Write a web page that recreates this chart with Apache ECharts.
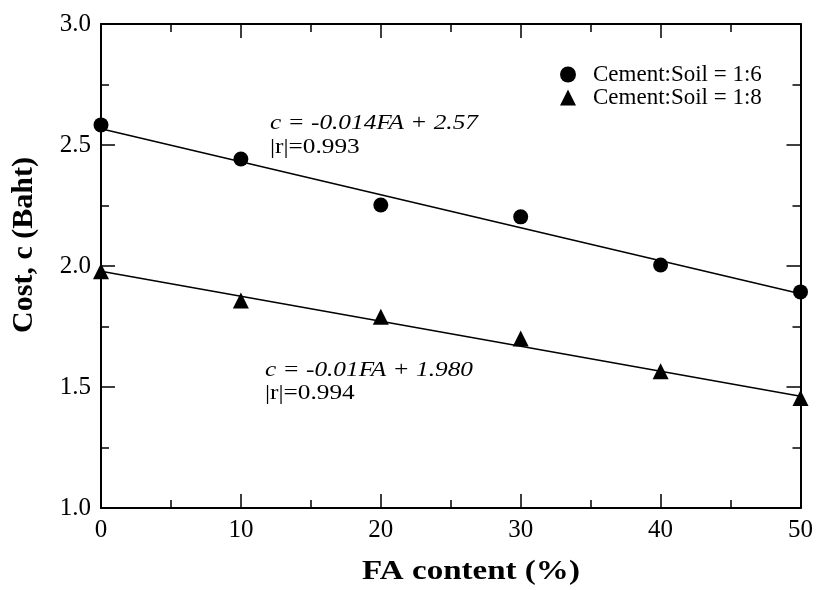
<!DOCTYPE html>
<html><head><meta charset="utf-8">
<script src="https://cdn.jsdelivr.net/npm/echarts@6/dist/echarts.min.js"></script>
<style>html,body{margin:0;padding:0;background:#fff}#c{width:816px;height:590px}</style>
</head><body><div id="c"></div>
<script>
const faContent = [0, 10, 20, 30, 40, 50];
const cost16 = [2.583, 2.442, 2.252, 2.203, 2.004, 1.893];
const cost18 = [1.978, 1.857, 1.790, 1.700, 1.565, 1.455];
const fitX = [0, 50];
const fit16 = [2.567, 1.885];
const fit18 = [1.978, 1.462];
const xTicks = [0, 10, 20, 30, 40, 50];
const yTicks = [1.0, 1.5, 2.0, 2.5, 3.0];
const eq16 = ['c = -0.014FA + 2.57', '|r|=0.993'];
const eq18 = ['c = -0.01FA + 1.980', '|r|=0.994'];
const names = ['Cement:Soil = 1:6', 'Cement:Soil = 1:8'];
const xTitle = 'FA content (%)';
const yTitle = 'Cost, c (Baht)';

const FONT = 'Liberation Serif';
const chart = echarts.init(document.getElementById('c'));
const pair = (xs, ys) => xs.map((x, i) => [x, ys[i]]);
const tickCommon = {show: true, inside: true, length: 14, lineStyle: {color: '#000', width: 1.5}};
const minorCommon = {show: true, splitNumber: 2, length: 8, lineStyle: {color: '#000', width: 1.5}};
const axisLine = {show: true, onZero: false, lineStyle: {color: '#000', width: 2}};

chart.setOption({
  animation: false,
  grid: {left: 101, right: 15, top: 24, bottom: 82},
  xAxis: [
    {type: 'value', min: 0, max: 50, interval: 10, position: 'bottom',
     axisLine, axisTick: tickCommon, minorTick: minorCommon, splitLine: {show: false},
     axisLabel: {fontFamily: FONT, fontSize: 25, color: '#000', margin: 10,
       formatter: v => xTicks.includes(v) ? String(v) : ''}},
    {type: 'value', min: 0, max: 50, interval: 10, position: 'top',
     axisLine, axisTick: tickCommon, minorTick: minorCommon, splitLine: {show: false},
     axisLabel: {show: false}}
  ],
  yAxis: [
    {type: 'value', min: 1, max: 3, interval: 0.5, position: 'left',
     axisLine, axisTick: tickCommon, minorTick: minorCommon, splitLine: {show: false},
     axisLabel: {fontFamily: FONT, fontSize: 25, color: '#000', margin: 10,
       formatter: v => yTicks.some(t => Math.abs(t - v) < 1e-9) ? v.toFixed(1) : ''}},
    {type: 'value', min: 1, max: 3, interval: 0.5, position: 'right',
     axisLine, axisTick: tickCommon, minorTick: minorCommon, splitLine: {show: false},
     axisLabel: {show: false}}
  ],
  legend: {
    orient: 'vertical', left: 555, top: 58, itemGap: 0, itemWidth: 16, itemHeight: 16,
    textStyle: {fontFamily: FONT, fontSize: 23, color: '#000', padding: [0, 0, 0, 12]},
    data: [{name: names[0], icon: 'circle'}, {name: names[1], icon: 'triangle'}]
  },
  series: [
    {type: 'line', data: pair(fitX, fit16), symbol: 'none', lineStyle: {color: '#000', width: 1.5}, silent: true, z: 1},
    {type: 'line', data: pair(fitX, fit18), symbol: 'none', lineStyle: {color: '#000', width: 1.5}, silent: true, z: 1},
    {name: names[0], type: 'scatter', data: pair(faContent, cost16), symbol: 'circle', symbolSize: 15,
     itemStyle: {color: '#000', opacity: 1}, z: 3},
    {name: names[1], type: 'scatter', data: pair(faContent, cost18), symbol: 'triangle', symbolSize: 16,
     itemStyle: {color: '#000', opacity: 1}, z: 3}
  ],
  graphic: [
    {type: 'text', x: 270, y: 123, scaleX: 1.15, style: {text: eq16[0], font: 'italic 22px "Liberation Serif"', fill: '#000', textVerticalAlign: 'middle'}},
    {type: 'text', x: 270, y: 147, scaleX: 1.15, style: {text: eq16[1], font: '22px "Liberation Serif"', fill: '#000', textVerticalAlign: 'middle'}},
    {type: 'text', x: 265, y: 370, scaleX: 1.15, style: {text: eq18[0], font: 'italic 22px "Liberation Serif"', fill: '#000', textVerticalAlign: 'middle'}},
    {type: 'text', x: 265, y: 393, scaleX: 1.15, style: {text: eq18[1], font: '22px "Liberation Serif"', fill: '#000', textVerticalAlign: 'middle'}},
    {type: 'text', x: 471, y: 572, scaleX: 1.18, style: {text: xTitle, font: 'bold 28px "Liberation Serif"', fill: '#000', textAlign: 'center', textVerticalAlign: 'middle'}},
    {type: 'text', x: 24, y: 245, rotation: Math.PI / 2, style: {text: yTitle, font: 'bold 30px "Liberation Serif"', fill: '#000', textAlign: 'center', textVerticalAlign: 'middle'}}
  ]
});
</script></body></html>
